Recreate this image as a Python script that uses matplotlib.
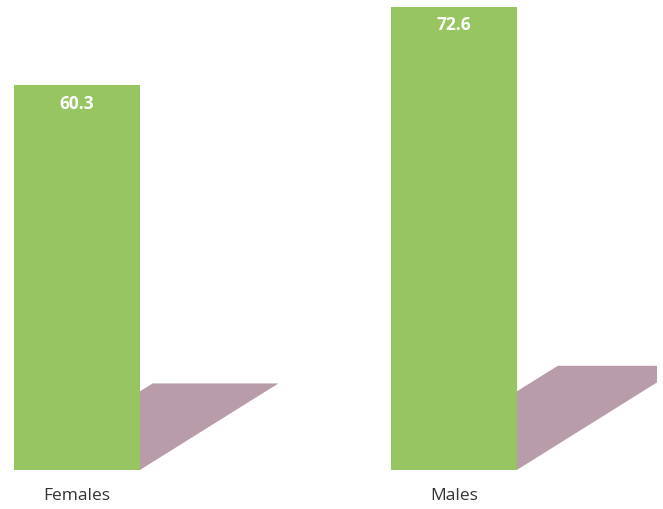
import numpy as np
import matplotlib.pyplot as plt
from matplotlib.patches import Polygon

# data
categories = ['Females', 'Males']
values = [60.3, 72.6]
labels = ['60.3', '72.6']

bar_color = '#96c561'
shadow_color = '#b99ca9'
bar_width = 0.334

fig = plt.figure(figsize=(6.63, 5.09), dpi=100)
# axes stops a few px short of the right edge, the shadow gets cut there
ax = fig.add_axes([0, 39 / 509, 657 / 663, 470 / 509])
ax.set_xlim(-0.204, 1.539)
ax.set_ylim(0, 73.67)

x = np.arange(len(categories))
ax.bar(x, values, width=bar_width, color=bar_color, zorder=3)

# fake 3D shadow cast behind each bar, length grows with the value
for xi, v in zip(x, values):
    x0 = xi - bar_width / 2
    x1 = xi + bar_width / 2
    dx = 0.0061 * v
    dy = 0.225 * v
    poly = Polygon([(x0, 0), (x1, 0), (x1 + dx, dy), (x0 + dx, dy)],
                   closed=True, facecolor=shadow_color, edgecolor='none', zorder=2)
    ax.add_patch(poly)

for xi, v, lab in zip(x, values, labels):
    ax.text(xi, v - 2.9, lab, ha='center', va='center', color='white',
            fontsize=12.5, fontweight='bold', family='Open Sans', zorder=4)

ax.set_xticks(x)
ax.set_xticklabels(categories, fontsize=12.5, family='Open Sans', color='#333333')
ax.tick_params(axis='x', length=0, pad=13)
ax.set_yticks([])
for s in ax.spines.values():
    s.set_visible(False)

fig.savefig('out.png', dpi=100)
